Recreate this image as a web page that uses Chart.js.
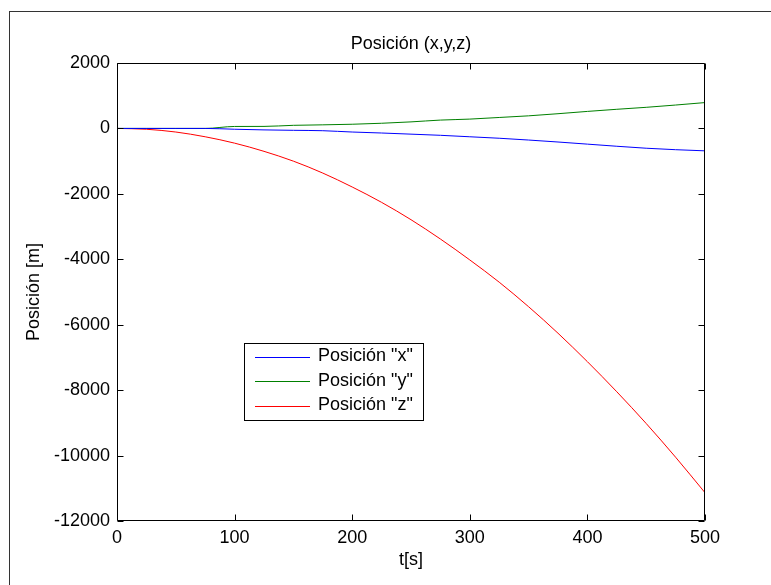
<!DOCTYPE html>
<html>
<head>
<meta charset="utf-8">
<script src="https://cdn.jsdelivr.net/npm/chart.js@4.4.1/dist/chart.umd.min.js"></script>
<style>
  html, body { margin: 0; padding: 0; background: #fff; }
  #wrap { width: 771px; height: 585px; position: relative; }
</style>
</head>
<body>
<div id="wrap"><canvas id="c" width="771" height="585"></canvas></div>
<script>
// ---- data ----
const times = [0, 25, 50, 75, 100, 125, 150, 175, 200, 225, 250, 275, 300, 325, 350, 375, 400, 425, 450, 475, 500];
const posX = [0, 0, 0, 0, -25, -45, -58, -70, -110, -140, -175, -210, -255, -300, -355, -415, -480, -545, -605, -650, -685];
const posY = [0, 0, 0, 0, 60, 62, 95, 110, 128, 158, 200, 255, 285, 335, 385, 450, 520, 585, 645, 715, 790];
const posZ = [0, -25, -110, -255, -450, -700, -1000, -1365, -1790, -2260, -2790, -3380, -4020, -4700, -5450, -6260, -7130, -8050, -9020, -10050, -11135];
const seriesNames = ['Posición "x"', 'Posición "y"', 'Posición "z"'];
const seriesColors = ['#0000ff', '#008000', '#ff0000'];
const xTickValues = [0, 100, 200, 300, 400, 500];
const yTickValues = [-12000, -10000, -8000, -6000, -4000, -2000, 0, 2000];
const chartTitle = 'Posición (x,y,z)';
const xTitle = 't[s]';
const yTitle = 'Posición [m]';

const FONT = 'Liberation Sans, Arial, sans-serif';

function toPts(vals) { return times.map((t, i) => ({ x: t, y: vals[i] })); }

const boxPlugin = {
  id: 'matlabBox',
  beforeDraw(chart) {
    const ctx = chart.ctx;
    ctx.save();
    ctx.fillStyle = '#fff';
    ctx.fillRect(0, 0, chart.width, chart.height);
    // outer figure frame
    ctx.strokeStyle = '#333';
    ctx.lineWidth = 1;
    ctx.strokeRect(9.5, 11.5, chart.width + 20, chart.height + 20);
    ctx.restore();
  },
  afterDatasetsDraw(chart) {
    const ctx = chart.ctx;
    const a = chart.chartArea;
    const xs = chart.scales.x, ys = chart.scales.y;
    ctx.save();
    ctx.strokeStyle = '#000';
    ctx.lineWidth = 1;
    const L = Math.round(a.left) + 0.5, R = Math.round(a.right) - 0.5;
    const T = Math.round(a.top) + 0.5, B = Math.round(a.bottom) - 0.5;
    ctx.beginPath();
    ctx.rect(L, T, R - L, B - T);
    const tl = 6;
    xTickValues.forEach(v => {
      const px = Math.round(xs.getPixelForValue(v)) + 0.5;
      ctx.moveTo(px, B); ctx.lineTo(px, B - tl);
      ctx.moveTo(px, T); ctx.lineTo(px, T + tl);
    });
    yTickValues.forEach(v => {
      const py = Math.round(ys.getPixelForValue(v)) + 0.5;
      ctx.moveTo(L, py); ctx.lineTo(L + tl, py);
      ctx.moveTo(R, py); ctx.lineTo(R - tl, py);
    });
    ctx.stroke();

    // title centered on plot area
    ctx.fillStyle = '#000';
    ctx.font = '18px ' + FONT;
    ctx.textAlign = 'center';
    ctx.textBaseline = 'middle';
    ctx.fillText(chartTitle, (a.left + a.right) / 2, 44);

    // legend
    const lx = 244.5, ly = 343.5, lw = 179, lh = 77;
    ctx.fillStyle = '#fff';
    ctx.fillRect(lx, ly, lw, lh);
    ctx.strokeStyle = '#000';
    ctx.strokeRect(lx, ly, lw, lh);
    ctx.textAlign = 'left';
    chart.data.datasets.forEach((ds, i) => {
      const y = 356.5 + i * 24.5;
      ctx.strokeStyle = ds.borderColor;
      ctx.beginPath();
      ctx.moveTo(255, Math.round(y) + 0.5);
      ctx.lineTo(310, Math.round(y) + 0.5);
      ctx.stroke();
      ctx.fillStyle = '#000';
      ctx.fillText(ds.label, 318, y);
    });
    ctx.restore();
  }
};

new Chart(document.getElementById('c'), {
  type: 'line',
  data: {
    datasets: [
      { label: seriesNames[0], data: toPts(posX), borderColor: seriesColors[0], borderWidth: 1, pointRadius: 0, cubicInterpolationMode: 'monotone' },
      { label: seriesNames[1], data: toPts(posY), borderColor: seriesColors[1], borderWidth: 1, pointRadius: 0, cubicInterpolationMode: 'monotone' },
      { label: seriesNames[2], data: toPts(posZ), borderColor: seriesColors[2], borderWidth: 1, pointRadius: 0, cubicInterpolationMode: 'monotone' }
    ]
  },
  options: {
    responsive: false,
    animation: false,
    layout: { padding: { top: 63, right: 66, left: 0, bottom: 0 } },
    plugins: { legend: { display: false }, title: { display: false }, tooltip: { enabled: false } },
    scales: {
      x: {
        type: 'linear', min: 0, max: 500,
        afterBuildTicks: s => { s.ticks = xTickValues.map(v => ({ value: v })); },
        afterFit: s => { s.height = 64; },
        grid: { display: false, drawTicks: false, tickLength: 0 },
        border: { display: false },
        ticks: { padding: 6, color: '#000', font: { family: FONT, size: 18 }, maxRotation: 0, autoSkip: false },
        title: { display: true, text: xTitle, color: '#000', font: { family: FONT, size: 18 }, padding: { top: 0, bottom: 14 } }
      },
      y: {
        type: 'linear', min: -12000, max: 2000,
        afterBuildTicks: s => { s.ticks = yTickValues.map(v => ({ value: v })); },
        afterFit: s => { s.width = 117; },
        grid: { display: false, drawTicks: false, tickLength: 0 },
        border: { display: false },
        ticks: { padding: 7, color: '#000', font: { family: FONT, size: 18 }, autoSkip: false, callback: v => String(v) },
        title: { display: true, text: yTitle, color: '#000', font: { family: FONT, size: 18 }, padding: { top: 23, bottom: 0 } }
      }
    }
  },
  plugins: [boxPlugin]
});
</script>
</body>
</html>
